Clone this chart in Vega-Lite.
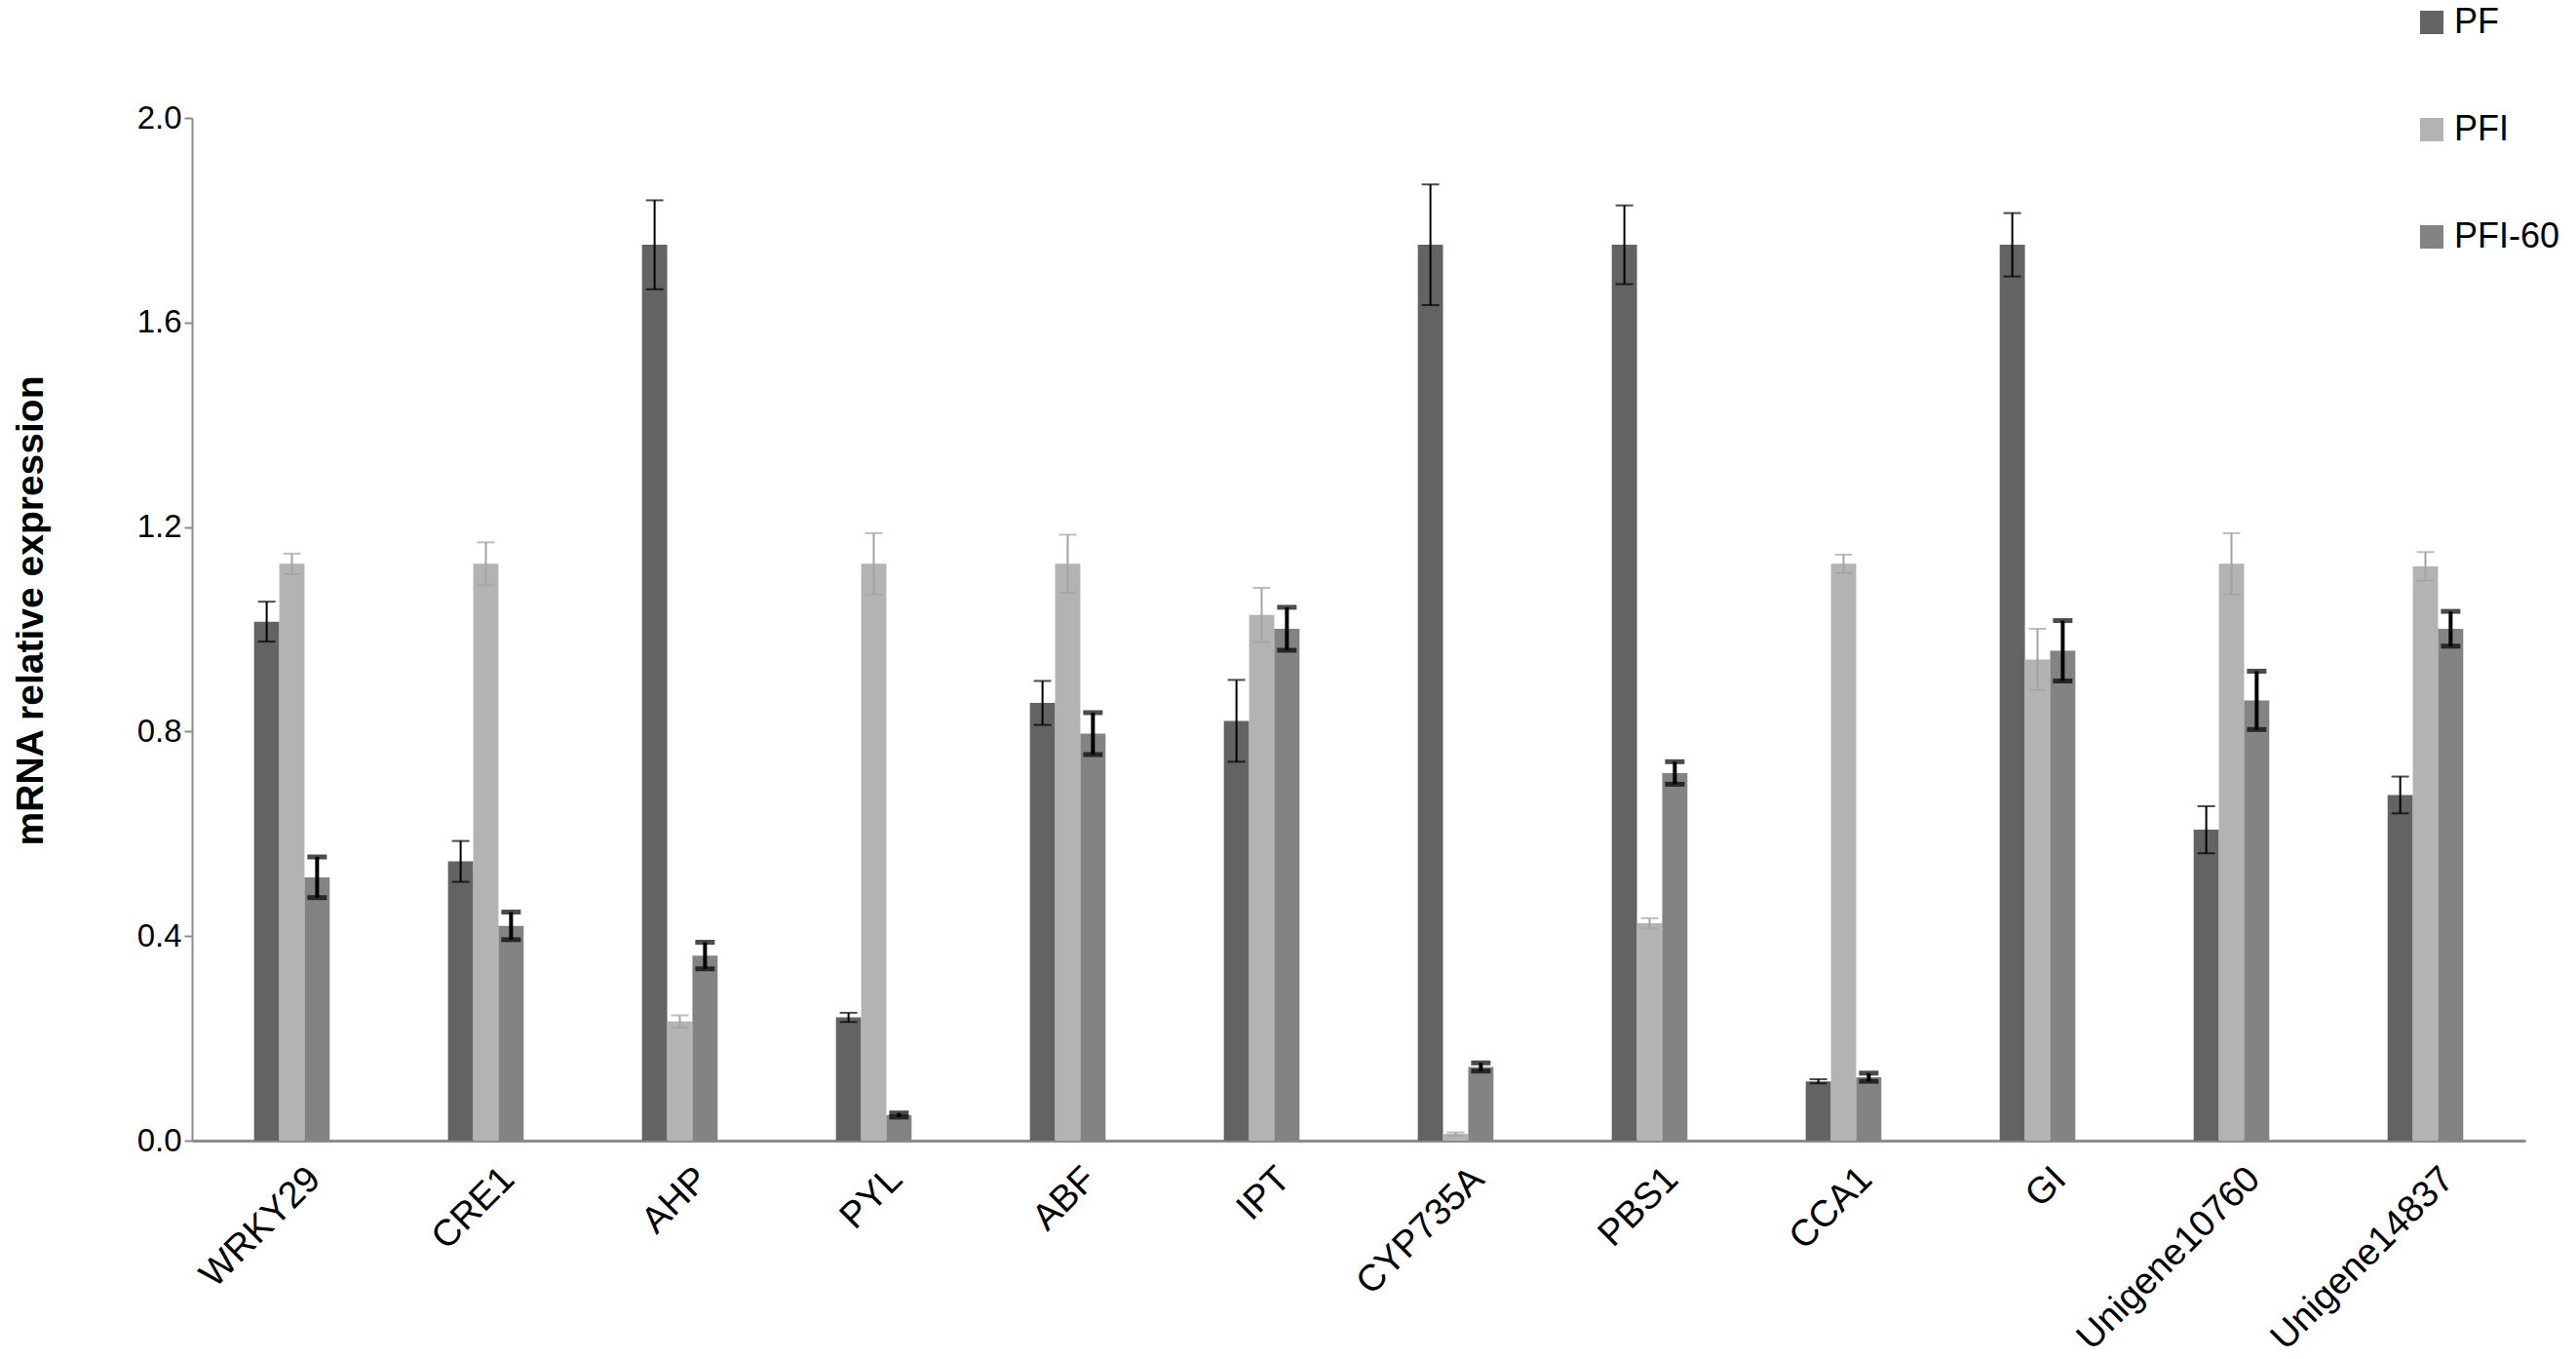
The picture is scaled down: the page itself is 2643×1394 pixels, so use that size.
{
  "$schema": "https://vega.github.io/schema/vega-lite/v6.json",
  "width": 2394,
  "height": 1049,
  "autosize": {"type": "none"},
  "padding": {"left": 197, "top": 121, "right": 52, "bottom": 224},
  "background": "white",
  "config": {
    "view": {"stroke": null},
    "font": "Liberation Sans"
  },
  "data": {
    "values": [
      {"gene": "WRKY29", "series": "PF", "value": 1.015, "lo": 0.976, "hi": 1.054},
      {"gene": "WRKY29", "series": "PFI", "value": 1.128, "lo": 1.108, "hi": 1.148},
      {"gene": "WRKY29", "series": "PFI-60", "value": 0.515, "lo": 0.475, "hi": 0.555},
      {"gene": "CRE1", "series": "PF", "value": 0.546, "lo": 0.506, "hi": 0.586},
      {"gene": "CRE1", "series": "PFI", "value": 1.128, "lo": 1.086, "hi": 1.170},
      {"gene": "CRE1", "series": "PFI-60", "value": 0.42, "lo": 0.393, "hi": 0.447},
      {"gene": "AHP", "series": "PF", "value": 1.752, "lo": 1.665, "hi": 1.839},
      {"gene": "AHP", "series": "PFI", "value": 0.233, "lo": 0.221, "hi": 0.245},
      {"gene": "AHP", "series": "PFI-60", "value": 0.362, "lo": 0.336, "hi": 0.388},
      {"gene": "PYL", "series": "PF", "value": 0.241, "lo": 0.232, "hi": 0.25},
      {"gene": "PYL", "series": "PFI", "value": 1.128, "lo": 1.068, "hi": 1.188},
      {"gene": "PYL", "series": "PFI-60", "value": 0.05, "lo": 0.046, "hi": 0.054},
      {"gene": "ABF", "series": "PF", "value": 0.856, "lo": 0.813, "hi": 0.899},
      {"gene": "ABF", "series": "PFI", "value": 1.128, "lo": 1.071, "hi": 1.185},
      {"gene": "ABF", "series": "PFI-60", "value": 0.796, "lo": 0.755, "hi": 0.837},
      {"gene": "IPT", "series": "PF", "value": 0.821, "lo": 0.741, "hi": 0.901},
      {"gene": "IPT", "series": "PFI", "value": 1.028, "lo": 0.975, "hi": 1.081},
      {"gene": "IPT", "series": "PFI-60", "value": 1.001, "lo": 0.959, "hi": 1.043},
      {"gene": "CYP735A", "series": "PF", "value": 1.752, "lo": 1.634, "hi": 1.870},
      {"gene": "CYP735A", "series": "PFI", "value": 0.013, "lo": 0.01, "hi": 0.016},
      {"gene": "CYP735A", "series": "PFI-60", "value": 0.144, "lo": 0.136, "hi": 0.152},
      {"gene": "PBS1", "series": "PF", "value": 1.752, "lo": 1.675, "hi": 1.829},
      {"gene": "PBS1", "series": "PFI", "value": 0.425, "lo": 0.415, "hi": 0.435},
      {"gene": "PBS1", "series": "PFI-60", "value": 0.719, "lo": 0.697, "hi": 0.741},
      {"gene": "CCA1", "series": "PF", "value": 0.116, "lo": 0.112, "hi": 0.12},
      {"gene": "CCA1", "series": "PFI", "value": 1.128, "lo": 1.11, "hi": 1.146},
      {"gene": "CCA1", "series": "PFI-60", "value": 0.124, "lo": 0.116, "hi": 0.132},
      {"gene": "GI", "series": "PF", "value": 1.752, "lo": 1.69, "hi": 1.814},
      {"gene": "GI", "series": "PFI", "value": 0.941, "lo": 0.881, "hi": 1.001},
      {"gene": "GI", "series": "PFI-60", "value": 0.958, "lo": 0.899, "hi": 1.017},
      {"gene": "Unigene10760", "series": "PF", "value": 0.608, "lo": 0.562, "hi": 0.654},
      {"gene": "Unigene10760", "series": "PFI", "value": 1.128, "lo": 1.068, "hi": 1.188},
      {"gene": "Unigene10760", "series": "PFI-60", "value": 0.861, "lo": 0.804, "hi": 0.918},
      {"gene": "Unigene14837", "series": "PF", "value": 0.676, "lo": 0.64, "hi": 0.712},
      {"gene": "Unigene14837", "series": "PFI", "value": 1.123, "lo": 1.095, "hi": 1.151},
      {"gene": "Unigene14837", "series": "PFI-60", "value": 1.001, "lo": 0.967, "hi": 1.035}
    ]
  },
  "encoding": {
    "x": {
      "field": "gene",
      "type": "nominal",
      "sort": null,
      "scale": {"paddingInner": 0.61, "paddingOuter": 0.32},
      "axis": {
        "title": null,
        "labelAngle": -45,
        "labelAlign": "right",
        "labelBaseline": "top",
        "labelFontSize": 38,
        "labelLimit": 0,
        "labelColor": "black",
        "labelFont": "Liberation Sans",
        "labelPadding": 20,
        "labelOffset": 10,
        "ticks": false,
        "domainColor": "#8c8c8c",
        "domainWidth": 3
      }
    },
    "xOffset": {"field": "series", "type": "nominal", "sort": ["PF", "PFI", "PFI-60"]}
  },
  "layer": [
    {
      "mark": {"type": "bar"},
      "encoding": {
        "y": {
          "field": "value",
          "type": "quantitative",
          "scale": {"domain": [0, 2], "nice": false},
          "axis": {
            "title": "mRNA relative expression",
            "titleFont": "Liberation Sans Narrow, Liberation Sans",
            "titleFontWeight": "bold",
            "titleFontSize": 39,
            "titleColor": "black",
            "titleAngle": -90,
            "titleX": -166,
            "titleY": 505,
            "titleAlign": "center",
            "titleBaseline": "middle",
            "values": [0, 0.4, 0.8, 1.2, 1.6, 2.0],
            "format": ".1f",
            "labelFontSize": 33,
            "labelColor": "black",
            "labelPadding": 3,
            "tickSize": 8,
            "tickColor": "#8c8c8c",
            "tickWidth": 2,
            "domainColor": "#8c8c8c",
            "domainWidth": 2,
            "grid": false
          }
        },
        "color": {
          "field": "series",
          "type": "nominal",
          "scale": {"domain": ["PF", "PFI", "PFI-60"], "range": ["#636363", "#b3b3b3", "#838383"]},
          "legend": {
            "title": null,
            "orient": "none",
            "legendX": 2280,
            "legendY": -116,
            "symbolType": "square",
            "symbolSize": 576,
            "symbolStrokeWidth": 0,
            "labelFontSize": 36,
            "labelColor": "black",
            "labelFont": "Liberation Sans",
            "rowPadding": 74,
            "labelOffset": 5
          }
        }
      }
    },
    {
      "mark": {"type": "rule"},
      "encoding": {
        "y": {"field": "lo", "type": "quantitative"},
        "y2": {"field": "hi"},
        "color": {"condition": {"test": "datum.series === 'PFI'", "value": "#a3a3a3"}, "value": "black"},
        "strokeWidth": {"condition": {"test": "datum.series === 'PFI-60'", "value": 4}, "value": 2}
      }
    },
    {
      "transform": [
        {"filter": "datum.series !== 'PFI-60'"},
        {"fold": ["lo", "hi"], "as": ["bound", "bv"]}
      ],
      "mark": {"type": "tick", "thickness": 2, "size": 18},
      "encoding": {
        "y": {"field": "bv", "type": "quantitative"},
        "color": {"condition": {"test": "datum.series === 'PFI'", "value": "#a3a3a3"}, "value": "black"}
      }
    },
    {
      "transform": [
        {"filter": "datum.series === 'PFI-60'"},
        {"fold": ["lo", "hi"], "as": ["bound", "bv"]}
      ],
      "mark": {"type": "tick", "thickness": 5, "size": 20, "color": "black"},
      "encoding": {
        "y": {"field": "bv", "type": "quantitative"}
      }
    }
  ]
}
